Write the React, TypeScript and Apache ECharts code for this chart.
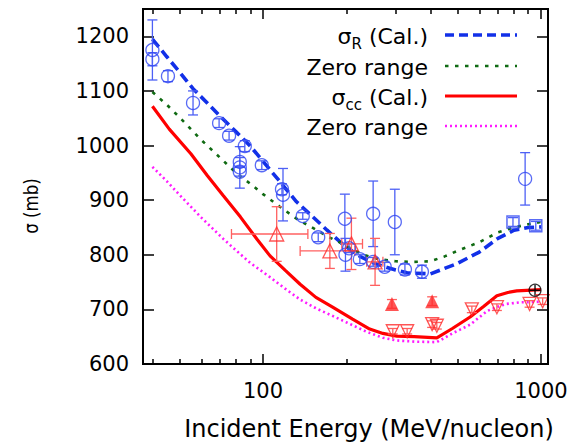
import React, { useEffect, useRef } from 'react';
import * as echarts from 'echarts';

const FONT = '"DejaVu Sans", sans-serif';
const X_MIN = 37;
const X_MAX = 1060;
const Y_MIN = 600;
const Y_MAX = 1250;
const xMajorTicks = [100, 1000];
const xMinorTicks = [40, 50, 60, 70, 80, 90, 200, 300, 400, 500, 600, 700, 800, 900];
const yTicks = [600, 700, 800, 900, 1000, 1100, 1200];

// calculated curves [E (MeV/nucleon), sigma (mb)]
const sigmaRCal = [[40,1195],[45,1163],[50,1135],[56,1104],[63,1078],[70,1054],[80,1025],[90,999],[100,971],[115,934],[132,897],[150,871],[170,845],[190,823],[210,806],[225,796],[250,785],[275,778],[300,772],[330,767],[400,765],[450,775],[500,784],[600,805],[700,830],[800,845],[900,850],[1000,851]];
const sigmaRZero = [[40,1098],[45,1075],[50,1052],[60,1010],[70,978],[80,950],[90,930],[100,911],[115,888],[132,866],[150,850],[170,834],[190,822],[210,810],[230,800],[260,792],[300,788],[350,787],[400,788],[450,797],[500,807],[600,823],[700,841],[800,850],[900,856],[1000,860]];
const sigmaCCCal = [[40,1072],[46,1030],[55,985],[63,945],[72,908],[83,869],[95,829],[106,798],[120,772],[136,746],[155,722],[178,704],[210,682],[242,664],[270,656],[303,651],[350,650],[422,648],[480,665],[556,686],[620,705],[694,725],[760,731],[818,734],[1000,736]];
const sigmaCCZero = [[40,961],[45,935],[50,910],[60,868],[72,829],[80,808],[90,785],[106,759],[120,738],[136,718],[155,702],[178,688],[200,676],[236,659],[270,648],[303,643],[350,641],[422,640],[480,656],[556,672],[640,697],[700,705],[750,710],[850,713],[1000,714]];

// experimental sigma_R (open circles)
const circleE = [40, 40, 45.5, 56, 69.5, 75.5, 82.5, 82.5, 82.5, 86, 99, 117, 118, 139, 158, 197, 198, 204, 223, 249, 249, 274, 298, 324, 373, 877];
const circleSigma = [1175, 1158, 1127, 1078, 1041, 1018, 970, 960, 952, 999, 964, 920, 910, 871, 832, 866, 800, 812, 792, 875, 787, 778, 860, 773, 769, 939];
const circleErr = [55, 12, 10, 22, 8, 8, 8, 38, 8, 10, 8, 10, 48, 6, 8, 45, 30, 8, 8, 60, 8, 8, 60, 10, 12, 48];

// experimental sigma_R (open squares)
const squareE = [793, 958];
const squareSigma = [860, 853];
const squareErr = [8, 8];

// experimental sigma_cc (open up triangles, with energy bins)
const triUpE = [112, 174, 208, 253];
const triUpSigma = [838, 807, 820, 787];
const triUpErr = [50, 32, 47, 43];
const triUpELow = [77, 136, 192, 236];
const triUpEHigh = [145, 214, 228, 270];

// experimental sigma_cc (filled up triangles)
const triFillE = [291, 406];
const triFillSigma = [710, 715];
const triFillErr = [8, 8];

// experimental sigma_cc (open down triangles)
const triDownE = [293, 330, 406, 422, 564, 694, 910, 1014];
const triDownSigma = [660, 660, 673, 670, 700, 704, 710, 715];
const triDownErr = [5, 5, 6, 6, 6, 6, 6, 6];

// black crossed circle
const crossE = [952];
const crossSigma = [735];
const crossErr = [10];
const crossELow = [910];
const crossEHigh = [995];

const BLUE_LINE = '#1230e8';
const GREEN_LINE = '#0f6a12';
const RED_LINE = '#ff0000';
const MAGENTA_LINE = '#ff1aff';
const BLUE_MARK = '#3046f2';
const BLUE_BAR = '#4d60f5';
const RED_MARK = '#ff2a2a';
const RED_BAR = '#ff6060';

function errorBars(data: number[][], color: string, cap: number) {
  return {
    type: 'custom',
    xAxisIndex: 0,
    yAxisIndex: 0,
    silent: true,
    z: 3,
    encode: { x: 0, y: 1 },
    data,
    renderItem: (params: any, api: any) => {
      const x = api.value(0);
      const y = api.value(1);
      const e = api.value(2);
      const xl = api.value(3);
      const xh = api.value(4);
      const c = api.coord([x, y]);
      const t = api.coord([x, y + e]);
      const b = api.coord([x, y - e]);
      const style = { stroke: color, lineWidth: 1.3, fill: 'none' };
      const children: any[] = [
        { type: 'line', shape: { x1: c[0], y1: t[1], x2: c[0], y2: b[1] }, style },
        { type: 'line', shape: { x1: c[0] - cap, y1: t[1], x2: c[0] + cap, y2: t[1] }, style },
        { type: 'line', shape: { x1: c[0] - cap, y1: b[1], x2: c[0] + cap, y2: b[1] }, style },
      ];
      if (isFinite(xl) && isFinite(xh) && xl > 0 && xh > 0) {
        const l = api.coord([xl, y]);
        const h = api.coord([xh, y]);
        children.push(
          { type: 'line', shape: { x1: l[0], y1: c[1], x2: h[0], y2: c[1] }, style },
          { type: 'line', shape: { x1: l[0], y1: c[1] - cap, x2: l[0], y2: c[1] + cap }, style },
          { type: 'line', shape: { x1: h[0], y1: c[1] - cap, x2: h[0], y2: c[1] + cap }, style }
        );
      }
      return { type: 'group', children };
    },
  };
}

function zip(e: number[], s: number[]) {
  return e.map((v, i) => [v, s[i]]);
}
function zipErr(e: number[], s: number[], err: number[], lo?: number[], hi?: number[]) {
  return e.map((v, i) => (lo && hi ? [v, s[i], err[i], lo[i], hi[i]] : [v, s[i], err[i]]));
}

const legendRows = [
  { y: 36, main: 'σ', sub: 'R', tail: ' (Cal.)', color: BLUE_LINE, width: 3.5, dash: [9, 5] },
  { y: 67, main: 'Zero range', sub: '', tail: '', color: GREEN_LINE, width: 2.5, dash: [3.5, 6.5] },
  { y: 97, main: 'σ', sub: 'cc', tail: ' (Cal.)', color: RED_LINE, width: 3.2, dash: null },
  { y: 127, main: 'Zero range', sub: '', tail: '', color: MAGENTA_LINE, width: 2.5, dash: [2, 3] },
];

export default function App() {
  const ref = useRef<HTMLDivElement>(null);
  useEffect(() => {
    document.body.style.margin = '0';
    const chart = echarts.init(ref.current!, undefined, { renderer: 'svg' });
    const axisCommon = {
      type: 'log',
      logBase: 10,
      min: X_MIN,
      max: X_MAX,
      axisLine: { show: false },
      splitLine: { show: false },
      minorTick: { show: false },
    };
    const graphic: any[] = [];
    legendRows.forEach((r) => {
      const text = r.sub ? `{t|${r.main}}{s|${r.sub}}{t|${r.tail}}` : `{t|${r.main}}`;
      graphic.push({
        type: 'text',
        x: 428,
        y: r.y,
        style: {
          text,
          align: 'right',
          verticalAlign: 'middle',
          fill: '#000',
          fontFamily: FONT,
          fontSize: 22,
          rich: {
            t: { fontSize: 22, fontFamily: FONT, fill: '#000', color: '#000', lineHeight: 26 },
            s: { fontSize: 15, fontFamily: FONT, fill: '#000', color: '#000', lineHeight: 15, padding: [15, 0, 0, 0] },
          },
        },
      });
      const ls: any = { stroke: r.color, lineWidth: r.width };
      if (r.dash) ls.lineDash = r.dash;
      graphic.push({ type: 'line', shape: { x1: 445, y1: r.y - 1, x2: 517, y2: r.y - 1 }, style: ls });
    });
    graphic.push({
      type: 'text',
      x: 369,
      y: 429,
      style: { text: 'Incident Energy (MeV/nucleon)', fontFamily: FONT, fontSize: 24, fill: '#000', align: 'center', verticalAlign: 'middle' },
    });
    graphic.push({
      type: 'text',
      x: 31,
      y: 206,
      rotation: Math.PI / 2,
      scaleX: 0.52,
      scaleY: 0.6,
      style: {
        text: 'σ (mb)',
        align: 'center',
        verticalAlign: 'middle',
        fill: '#000',
        font: 'normal 32px "DejaVu Sans", sans-serif',
        fontFamily: FONT,
        fontSize: 32,
      },
    });

    chart.setOption({
      animation: false,
      backgroundColor: '#fff',
      grid: [
        { left: 143, right: 35, top: 9, bottom: 78, show: true, borderColor: '#000', borderWidth: 2, backgroundColor: 'transparent', z: 10 },
        { left: 143, right: 35, top: 9, bottom: 78, show: false },
      ],
      xAxis: [
        {
          ...axisCommon,
          gridIndex: 0,
          position: 'bottom',
          axisTick: { show: true, inside: true, length: 10, customValues: xMajorTicks, lineStyle: { color: '#000', width: 1.5 } },
          axisLabel: { show: true, customValues: xMajorTicks, formatter: (v: number) => String(Math.round(v)), fontFamily: FONT, fontSize: 21, color: '#000', margin: 16 },
        },
        {
          ...axisCommon,
          gridIndex: 0,
          position: 'top',
          axisTick: { show: true, inside: true, length: 10, customValues: xMajorTicks, lineStyle: { color: '#000', width: 1.5 } },
          axisLabel: { show: false },
        },
        {
          ...axisCommon,
          gridIndex: 1,
          position: 'bottom',
          axisTick: { show: true, inside: true, length: 5, customValues: xMinorTicks, lineStyle: { color: '#000', width: 1.5 } },
          axisLabel: { show: false },
        },
        {
          ...axisCommon,
          gridIndex: 1,
          position: 'top',
          axisTick: { show: true, inside: true, length: 5, customValues: xMinorTicks, lineStyle: { color: '#000', width: 1.5 } },
          axisLabel: { show: false },
        },
      ],
      yAxis: [
        {
          type: 'value',
          gridIndex: 0,
          position: 'left',
          min: Y_MIN,
          max: Y_MAX,
          axisLine: { show: false },
          splitLine: { show: false },
          axisTick: { show: true, inside: true, length: 11, customValues: yTicks, lineStyle: { color: '#000', width: 1.5 } },
          axisLabel: { show: true, customValues: yTicks, formatter: (v: number) => String(Math.round(v)), fontFamily: FONT, fontSize: 21, color: '#000', margin: 14 },
        },
        {
          type: 'value',
          gridIndex: 0,
          position: 'right',
          min: Y_MIN,
          max: Y_MAX,
          axisLine: { show: false },
          splitLine: { show: false },
          axisTick: { show: true, inside: true, length: 11, customValues: yTicks, lineStyle: { color: '#000', width: 1.5 } },
          axisLabel: { show: false },
        },
        {
          type: 'value',
          gridIndex: 1,
          min: Y_MIN,
          max: Y_MAX,
          axisLine: { show: false },
          splitLine: { show: false },
          axisTick: { show: false },
          axisLabel: { show: false },
        },
      ],
      graphic,
      series: [
        { type: 'line', name: 'sigmaR Cal', data: sigmaRCal, symbol: 'none', z: 2, lineStyle: { color: BLUE_LINE, width: 3.6, type: [10, 5] } },
        { type: 'line', name: 'sigmaR Zero', data: sigmaRZero, symbol: 'none', z: 2, lineStyle: { color: GREEN_LINE, width: 2.6, type: [3.5, 6.5] } },
        { type: 'line', name: 'sigmacc Cal', data: sigmaCCCal, symbol: 'none', z: 2, lineStyle: { color: RED_LINE, width: 3.2 } },
        { type: 'line', name: 'sigmacc Zero', data: sigmaCCZero, symbol: 'none', z: 2, lineStyle: { color: MAGENTA_LINE, width: 2.6, type: [2, 3] } },
        errorBars(zipErr(circleE, circleSigma, circleErr), BLUE_BAR, 5),
        errorBars(zipErr(squareE, squareSigma, squareErr), BLUE_BAR, 5),
        errorBars(zipErr(triUpE, triUpSigma, triUpErr, triUpELow, triUpEHigh), RED_BAR, 5),
        errorBars(zipErr(triFillE, triFillSigma, triFillErr), RED_BAR, 5),
        errorBars(zipErr(triDownE, triDownSigma, triDownErr), RED_BAR, 5),
        errorBars(zipErr(crossE, crossSigma, crossErr, crossELow, crossEHigh), '#000', 0),
        { type: 'scatter', data: zip(circleE, circleSigma), symbol: 'circle', symbolSize: 13, z: 4, itemStyle: { color: 'rgba(0,0,0,0)', borderColor: BLUE_MARK, borderWidth: 1.3 } },
        { type: 'scatter', data: zip(squareE, squareSigma), symbol: 'rect', symbolSize: 12, z: 4, itemStyle: { color: 'rgba(0,0,0,0)', borderColor: BLUE_MARK, borderWidth: 1.5 } },
        { type: 'scatter', data: zip(triUpE, triUpSigma), symbol: 'triangle', symbolSize: 14, z: 4, itemStyle: { color: 'rgba(0,0,0,0)', borderColor: RED_MARK, borderWidth: 1.3 } },
        { type: 'scatter', data: zip(triFillE, triFillSigma), symbol: 'triangle', symbolSize: 14, z: 4, itemStyle: { color: RED_MARK } },
        { type: 'scatter', data: zip(triDownE, triDownSigma), symbol: 'triangle', symbolRotate: 180, symbolSize: 13, z: 4, itemStyle: { color: 'rgba(0,0,0,0)', borderColor: RED_MARK, borderWidth: 1.3 } },
        { type: 'scatter', data: zip(crossE, crossSigma), symbol: 'circle', symbolSize: 12, z: 4, itemStyle: { color: 'rgba(0,0,0,0)', borderColor: '#000', borderWidth: 1.2 } },
      ],
    });
    return () => chart.dispose();
  }, []);
  return <div ref={ref} style={{ width: 583, height: 442 }} />;
}
